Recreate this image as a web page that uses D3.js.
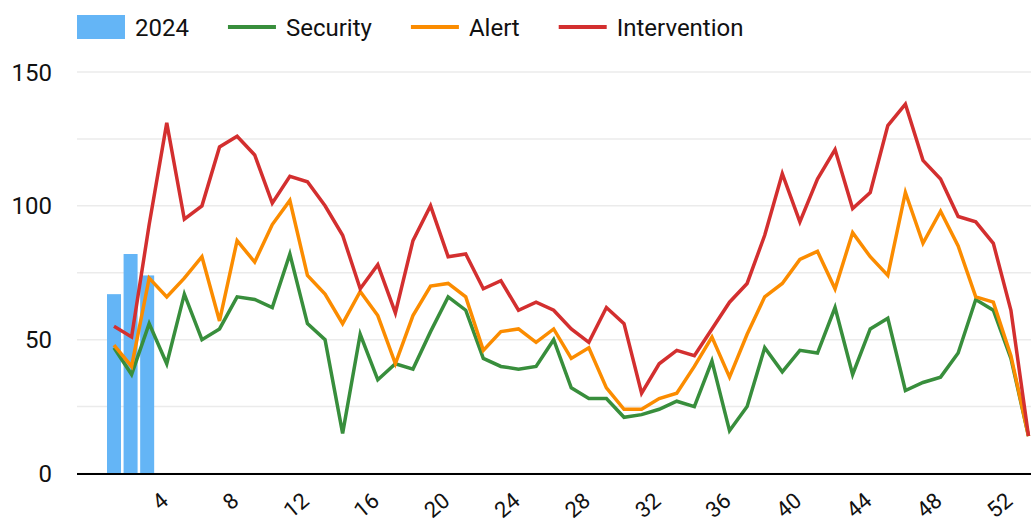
<!DOCTYPE html>
<html>
<head>
<meta charset="utf-8">
<script src="https://cdn.jsdelivr.net/npm/d3@7"></script>
<style>
  body { margin: 0; background: #fff; }
  text { font-family: Roboto, sans-serif; fill: #111; }
</style>
</head>
<body>
<script>
// weeks 1..53
var weeks = d3.range(1, 54);
var barWeeks = [1, 2, 3];
var bars2024 = [67, 82, 74];
var security = [47, 37, 56, 41, 67, 50, 54, 66, 65, 62, 82, 56, 50, 15, 52, 35, 41, 39, 53, 66, 61, 43, 40, 39, 40, 50, 32, 28, 28, 21, 22, 24, 27, 25, 42, 16, 25, 47, 38, 46, 45, 62, 37, 54, 58, 31, 34, 36, 45, 65, 61, 43, 14];
var alert_ = [48, 40, 73, 66, 73, 81, 57, 87, 79, 93, 102, 74, 67, 56, 68, 59, 41, 59, 70, 71, 66, 46, 53, 54, 49, 54, 43, 47, 32, 24, 24, 28, 30, 40, 51, 36, 52, 66, 71, 80, 83, 69, 90, 81, 74, 105, 86, 98, 85, 66, 64, 44, 14];
var intervention = [55, 51, 93, 131, 95, 100, 122, 126, 119, 101, 111, 109, 100, 89, 69, 78, 60, 87, 100, 81, 82, 69, 72, 61, 64, 61, 54, 49, 62, 56, 30, 41, 46, 44, 54, 64, 71, 89, 112, 94, 110, 121, 99, 105, 130, 138, 117, 110, 96, 94, 86, 61, 14];
var xTicks = [4, 8, 12, 16, 20, 24, 28, 32, 36, 40, 44, 48, 52];
var yTicks = [0, 50, 100, 150];
var gridTicks = [0, 25, 50, 75, 100, 125, 150];

var w = 1031;
var h = 528;
var left = 77, right = 1031;

var svg = d3.select("body")
    .append("svg")
    .attr("width", w)
    .attr("height", h);

var x = d3.scaleLinear().domain([1, 53]).range([114, 1028.5]);
var y = d3.scaleLinear().domain([0, 150]).range([473.5, 72]);

// grid
svg.selectAll("line.grid")
    .data(gridTicks)
    .enter()
    .append("line")
    .attr("class", "grid")
    .attr("x1", left)
    .attr("x2", right)
    .attr("y1", function(d){ return y(d); })
    .attr("y2", function(d){ return y(d); })
    .attr("stroke", "#ebebeb")
    .attr("stroke-width", 1.5);

// y labels
svg.selectAll("text.ylab")
    .data(yTicks)
    .enter()
    .append("text")
    .attr("class", "ylab")
    .attr("x", 52)
    .attr("y", function(d){ return y(d); })
    .attr("dy", "0.36em")
    .attr("text-anchor", "end")
    .attr("font-size", "24px")
    .text(function(d){ return d; });

// bars
svg.selectAll("rect.bar")
    .data(bars2024)
    .enter()
    .append("rect")
    .attr("class", "bar")
    .attr("x", function(d, i){ return x(barWeeks[i]) - 7 - i; })
    .attr("y", function(d){ return y(d); })
    .attr("width", 14)
    .attr("height", function(d){ return y(0) - y(d); })
    .attr("fill", "#64b5f6");

// lines
var line = d3.line()
    .x(function(d, i){ return x(weeks[i]); })
    .y(function(d){ return y(d); });

var series = [
    {name: "Security", values: security, color: "#388e3c"},
    {name: "Alert", values: alert_, color: "#fb8c00"},
    {name: "Intervention", values: intervention, color: "#d32f2f"}
];

svg.selectAll("path.series")
    .data(series)
    .enter()
    .append("path")
    .attr("class", "series")
    .attr("d", function(d){ return line(d.values); })
    .attr("fill", "none")
    .attr("stroke", function(d){ return d.color; })
    .attr("stroke-width", 3.5)
    .attr("stroke-linejoin", "miter");

// x axis
svg.append("line")
    .attr("x1", left)
    .attr("x2", right)
    .attr("y1", 474)
    .attr("y2", 474)
    .attr("stroke", "#000")
    .attr("stroke-width", 2);

svg.selectAll("text.xlab")
    .data(xTicks)
    .enter()
    .append("text")
    .attr("class", "xlab")
    .attr("transform", function(d){ return "translate(" + (x(d) + 3) + ",503) rotate(-40)"; })
    .attr("text-anchor", "end")
    .attr("font-size", "22px")
    .text(function(d){ return d; });

// legend
var legendItems = [
    {name: "2024", color: "#64b5f6", type: "rect"}
].concat(series.map(function(s){ return {name: s.name, color: s.color, type: "line"}; }));

var lx = 77;
legendItems.forEach(function(item){
    if (item.type === "rect") {
        svg.append("rect")
            .attr("x", lx).attr("y", 15)
            .attr("width", 48).attr("height", 24)
            .attr("fill", item.color);
    } else {
        svg.append("line")
            .attr("x1", lx).attr("x2", lx + 48)
            .attr("y1", 27).attr("y2", 27)
            .attr("stroke", item.color)
            .attr("stroke-width", 4);
    }
    var t = svg.append("text")
        .attr("x", lx + 58)
        .attr("y", 27)
        .attr("dy", "0.36em")
        .attr("font-size", "24px")
        .text(item.name);
    lx = lx + 58 + t.node().getComputedTextLength() + 39;
});
</script>
</body>
</html>
